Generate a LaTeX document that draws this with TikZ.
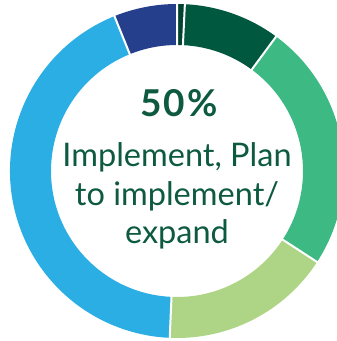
\documentclass[tikz,border=0pt]{standalone}
\usepackage{fontspec}
\setmainfont{Lato}
\usepackage{xcolor}
\usetikzlibrary{calc,positioning}
\definecolor{color_forest}{HTML}{00583f}
\definecolor{color_forest_dark}{HTML}{004330}
\definecolor{color_mint}{HTML}{3db983}
\definecolor{color_lime}{HTML}{aed585}
\definecolor{color_sky}{HTML}{2aaee3}
\definecolor{color_navy}{HTML}{263f8c}
\definecolor{color_text}{HTML}{0d5a40}

\tikzset{
	ring_sep/.style={white, line width=2pt},
	ring_label/.style={color_text, align=center, inner sep=0pt, anchor=base,
		font=\fontsize{32.5}{39}\selectfont}
}

\begin{document}
\begin{tikzpicture}[scale=1,x=1pt,y=1pt]
				\useasboundingbox (0, 0) rectangle (337, 341);
				\clip (0, 0) rectangle (337, 341);
				% Points
				\coordinate (C) at (177, 170);
				\def\ro{167}
				\def\ri{126}

				% Segments
				\fill[color_forest_dark]
					($(C)+(87.3:\ro)$) arc[start angle=87.3, end angle=90, radius=\ro]
					-- ($(C)+(90:\ri)$) arc[start angle=90, end angle=87.3, radius=\ri] -- cycle;
				\fill[color_forest]
					($(C)+(53.6:\ro)$) arc[start angle=53.6, end angle=87.3, radius=\ro]
					-- ($(C)+(87.3:\ri)$) arc[start angle=87.3, end angle=53.6, radius=\ri] -- cycle;
				\fill[color_mint]
					($(C)+(-33:\ro)$) arc[start angle=-33, end angle=53.6, radius=\ro]
					-- ($(C)+(53.6:\ri)$) arc[start angle=53.6, end angle=-33, radius=\ri] -- cycle;
				\fill[color_lime]
					($(C)+(-92.5:\ro)$) arc[start angle=-92.5, end angle=-33, radius=\ro]
					-- ($(C)+(-33:\ri)$) arc[start angle=-33, end angle=-92.5, radius=\ri] -- cycle;
				\fill[color_sky]
					($(C)+(112:\ro)$) arc[start angle=112, end angle=267.5, radius=\ro]
					-- ($(C)+(267.5:\ri)$) arc[start angle=267.5, end angle=112, radius=\ri] -- cycle;
				\fill[color_navy]
					($(C)+(90:\ro)$) arc[start angle=90, end angle=112, radius=\ro]
					-- ($(C)+(112:\ri)$) arc[start angle=112, end angle=90, radius=\ri] -- cycle;

				% Separators
				\draw[ring_sep]
					($(C)+(87.3:\ri-2)$) -- ($(C)+(87.3:\ro+2)$)
					($(C)+(90:\ri-2)$) -- ($(C)+(90:\ro+2)$)
					($(C)+(53.6:\ri-2)$) -- ($(C)+(53.6:\ro+2)$)
					($(C)+(-33:\ri-2)$) -- ($(C)+(-33:\ro+2)$)
					($(C)+(-92.5:\ri-2)$) -- ($(C)+(-92.5:\ro+2)$)
					($(C)+(112:\ri-2)$) -- ($(C)+(112:\ro+2)$)
					;

				% Label
				\node[ring_label, font=\fontsize{37}{39}\selectfont\bfseries\addfontfeatures{LetterSpace=5}] (pct) at (179, 225) {50\%};
				\node[ring_label] (desc) at (177, 97) {Implement, Plan\\to implement/\\expand};
			\end{tikzpicture}
\end{document}
